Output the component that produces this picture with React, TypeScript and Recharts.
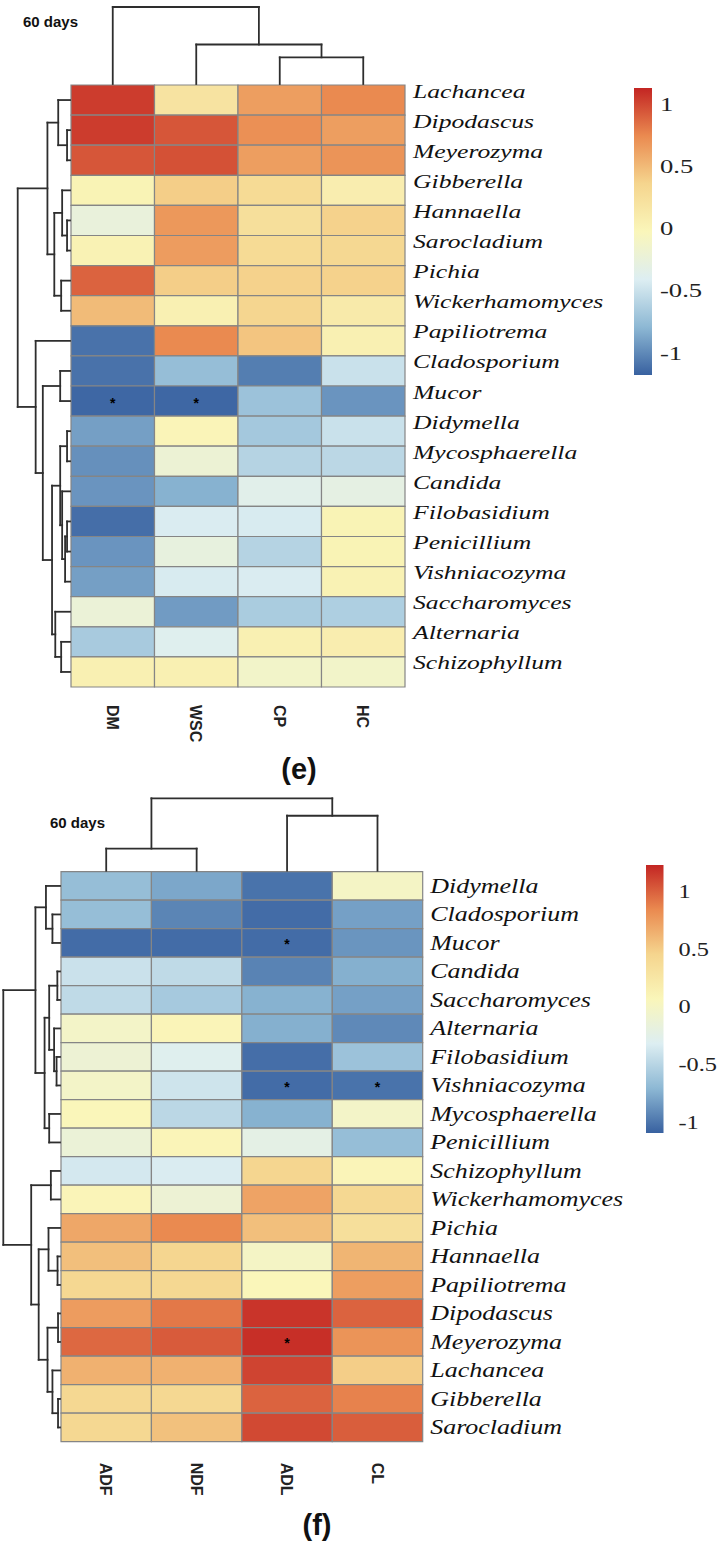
import React from 'react';
import { ComposedChart, XAxis, YAxis, ReferenceArea, ReferenceLine, Scatter } from 'recharts';

type Node = number | [Node, Node, number];

const PALETTE = ['#3861A0', '#8DB8D4', '#DDEEF2', '#FAF6BA', '#F5D58E', '#EA8A50', '#C32523'];
const LEGEND_TICKS = [-1, -0.5, 0, 0.5, 1];

// ---------- Panel (e) ----------
const E_TITLE = '60 days';
const E_TAG = '(e)';
const E_COLUMNS = ['DM', 'WSC', 'CP', 'HC'];
const E_ROWS = ['Lachancea', 'Dipodascus', 'Meyerozyma', 'Gibberella', 'Hannaella', 'Sarocladium', 'Pichia', 'Wickerhamomyces', 'Papiliotrema', 'Cladosporium', 'Mucor', 'Didymella', 'Mycosphaerella', 'Candida', 'Filobasidium', 'Penicillium', 'Vishniacozyma', 'Saccharomyces', 'Alternaria', 'Schizophyllum'];
const E_DM = [1.05, 1.05, 0.95, 0.02, -0.25, 0.03, 0.9, 0.5, -1.1, -1.1, -1.15, -0.9, -0.97, -0.95, -1.12, -0.95, -0.9, -0.22, -0.66, 0.05];
const E_WSC = [0.2, 0.95, 0.97, 0.4, 0.68, 0.66, 0.4, 0.05, 0.75, -0.75, -1.15, 0.0, -0.2, -0.82, -0.42, -0.27, -0.43, -0.92, -0.38, 0.05];
const E_CP = [0.65, 0.72, 0.65, 0.3, 0.25, 0.3, 0.38, 0.35, 0.45, -1.05, -0.72, -0.68, -0.6, -0.35, -0.43, -0.6, -0.42, -0.65, 0.05, -0.12];
const E_HC = [0.75, 0.65, 0.7, 0.08, 0.38, 0.33, 0.38, 0.12, 0.05, -0.5, -0.95, -0.5, -0.57, -0.3, 0.02, 0.02, 0.03, -0.63, 0.08, -0.12];
const E_STARS: [string, string][] = [['Mucor', 'DM'], ['Mucor', 'WSC']];
const E_ROW_TREE: Node = [
  [[0, [1, 2, 3], 12], [[3, [4, 5, 3], 8], [6, 7, 9], 16], 23],
  [8, [[9, 10, 10], [[[11, 12, 3], [13, [[14, 15, 3], 16, 5], 8], 10], [17, [18, 19, 9], 15], 18.3], 27.7], 35],
  53.3,
];
const E_COL_TREE: Node = [0, [1, [2, 3, 27], 40], 78];
const E_LEGEND_RANGE: [number, number] = [-1.177, 1.137];

// ---------- Panel (f) ----------
const F_TITLE = '60 days';
const F_TAG = '(f)';
const F_COLUMNS = ['ADF', 'NDF', 'ADL', 'CL'];
const F_ROWS = ['Didymella', 'Cladosporium', 'Mucor', 'Candida', 'Saccharomyces', 'Alternaria', 'Filobasidium', 'Vishniacozyma', 'Mycosphaerella', 'Penicillium', 'Schizophyllum', 'Wickerhamomyces', 'Pichia', 'Hannaella', 'Papiliotrema', 'Dipodascus', 'Meyerozyma', 'Lachancea', 'Gibberella', 'Sarocladium'];
const F_ADF = [-0.66, -0.66, -1.04, -0.41, -0.46, -0.03, -0.11, -0.03, 0.07, -0.13, -0.36, 0.09, 0.69, 0.57, 0.42, 0.75, 0.97, 0.64, 0.42, 0.42];
const F_NDF = [-0.78, -0.93, -1.04, -0.46, -0.58, 0.09, -0.29, -0.39, -0.48, 0.09, -0.33, -0.11, 0.84, 0.44, 0.42, 0.91, 1.02, 0.64, 0.42, 0.56];
const F_ADL = [-1.01, -1.04, -1.04, -0.94, -0.73, -0.74, -1.03, -1.04, -0.73, -0.23, 0.44, 0.71, 0.57, -0.01, 0.07, 1.17, 1.19, 1.11, 0.99, 1.09];
const F_CL = [-0.01, -0.81, -0.86, -0.74, -0.81, -0.91, -0.63, -1.01, -0.03, -0.66, 0.09, 0.42, 0.34, 0.62, 0.74, 0.99, 0.79, 0.49, 0.87, 1.01];
const F_STARS: [string, string][] = [['Mucor', 'ADL'], ['Vishniacozyma', 'ADL'], ['Vishniacozyma', 'CL'], ['Meyerozyma', 'ADL']];
const F_ROW_TREE: Node = [
  [[0, [1, 2, 7.7], 14.3], [[[3, 4, 2.7], [5, [6, 7, 3.5], 6], 11], [8, 9, 11], 15.7], 25],
  [[10, 11, 9.3], [[12, [13, 14, 2.5], 11.7], [[15, 16, 2], [17, [18, 19, 2], 7.7], 12.7], 21.7], 29.3],
  57.7,
];
const F_COL_TREE: Node = [[0, 1, 22.4], [2, 3, 55.7], 73.4];
const F_LEGEND_RANGE: [number, number] = [-1.089, 1.227];

// ---------- helpers ----------
const SERIF = "'Liberation Serif', 'Times New Roman', serif";
const SANS = "'Liberation Sans', Arial, sans-serif";

function hexToRgb(h: string) {
  const n = parseInt(h.slice(1), 16);
  return [(n >> 16) & 255, (n >> 8) & 255, n & 255];
}
function colorFor(v: number, range: [number, number]) {
  const t0 = Math.max(0, Math.min(1, (v - range[0]) / (range[1] - range[0])));
  const t = t0 * (PALETTE.length - 1);
  const i = Math.min(Math.floor(t), PALETTE.length - 2);
  const f = t - i;
  const a = hexToRgb(PALETTE[i]);
  const b = hexToRgb(PALETTE[i + 1]);
  const c = a.map((x, k) => Math.round(x + (b[k] - x) * f));
  return `rgb(${c[0]},${c[1]},${c[2]})`;
}

type Seg = { p1: number; h1: number; p2: number; h2: number };
function buildSegments(tree: Node) {
  const segs: Seg[] = [];
  const walk = (n: Node): { pos: number; h: number } => {
    if (typeof n === 'number') return { pos: n + 0.5, h: 0 };
    const a = walk(n[0]);
    const b = walk(n[1]);
    const h = n[2];
    segs.push({ p1: a.pos, h1: a.h, p2: a.pos, h2: h });
    segs.push({ p1: b.pos, h1: b.h, p2: b.pos, h2: h });
    segs.push({ p1: a.pos, h1: h, p2: b.pos, h2: h });
    return { pos: (a.pos + b.pos) / 2, h };
  };
  const r = walk(tree);
  return { segs, rootH: r.h };
}

type Layout = {
  chartTop: number; chartH: number;
  left: number; right: number; top: number; bottom: number;
  rowDendroPx: number; colDendroPx: number;
  labelDx: number; labelDy: number; labelFs: number; labelSx: number;
  colLabelDy: number; colLabelFs: number;
  cbLeft: number; cbTop: number; cbW: number; cbH: number; cbTickDx: number; cbFs: number; cbSx: number;
  titleX: number; titleY: number; tagCx: number; tagCy: number;
};

const E_LAYOUT: Layout = {
  chartTop: 0, chartH: 780,
  left: 71, right: 405, top: 85, bottom: 687,
  rowDendroPx: 53.3, colDendroPx: 78,
  labelDx: 8, labelDy: -9, labelFs: 19, labelSx: 1.35,
  colLabelDy: 18, colLabelFs: 16,
  cbLeft: 634, cbTop: 88, cbW: 18, cbH: 287, cbTickDx: 8, cbFs: 19, cbSx: 1.4,
  titleX: 23, titleY: 14, tagCx: 299, tagCy: 769,
};
const F_LAYOUT: Layout = {
  chartTop: 780, chartH: 768,
  left: 61, right: 422.7, top: 871.7, bottom: 1441.7,
  rowDendroPx: 57.7, colDendroPx: 73.4,
  labelDx: 7.5, labelDy: 0, labelFs: 20, labelSx: 1.3,
  colLabelDy: 21, colLabelFs: 16,
  cbLeft: 646, cbTop: 865, cbW: 17.5, cbH: 268, cbTickDx: 15, cbFs: 19, cbSx: 1.28,
  titleX: 50, titleY: 815, tagCx: 317, tagCy: 1525,
};

type PanelCfg = {
  id: string; title: string; tag: string;
  rows: string[]; cols: string[]; values: number[][];
  stars: [string, string][]; rowTree: Node; colTree: Node;
  range: [number, number]; L: Layout;
};

const X_AXIS_H = 60;
const Y_AXIS_W = 10;
const LINE = '#2e2e2e';

function Heatmap({ cfg }: { cfg: PanelCfg }) {
  const { rows, cols, values, stars, rowTree, colTree, range, L } = cfg;
  const colW = (L.right - L.left) / cols.length;
  const rowH = (L.bottom - L.top) / rows.length;
  const margin = {
    top: L.top - L.chartTop,
    left: L.left,
    right: 721 - L.right - Y_AXIS_W,
    bottom: L.chartTop + L.chartH - L.bottom - X_AXIS_H,
  };
  const rowD = buildSegments(rowTree);
  const colD = buildSegments(colTree);
  const rowLen = L.rowDendroPx / colW;
  const rowGap = 1 / colW;
  const colLen = L.colDendroPx / rowH;
  const colGap = 1 / rowH;
  const rx = (h: number) => -rowGap - (h / rowD.rootH) * (rowLen - rowGap);
  const cy = (h: number) => -colGap - (h / colD.rootH) * (colLen - colGap);

  const cells: { c: number; r: number; v: number }[] = [];
  values.forEach((col, c) => col.forEach((v, r) => cells.push({ c, r, v })));
  const starData = stars.map(([rn, cn]) => ({ x: cols.indexOf(cn) + 0.5, y: rows.indexOf(rn) + 0.5 }));

  const rowTick = (p: any) => (
    <g transform={`translate(${p.x + L.labelDx},${p.y + L.labelDy}) scale(${L.labelSx},1)`}>
      <text x={0} y={0.34 * L.labelFs} fontFamily={SERIF} fontStyle="italic" fontSize={L.labelFs} fill="#111">
        {rows[Math.floor(p.payload.value)]}
      </text>
    </g>
  );
  const colTick = (p: any) => (
    <text
      transform={`translate(${p.x},${p.y + L.colLabelDy}) rotate(90)`}
      x={0}
      y={0.36 * L.colLabelFs}
      fontFamily={SANS}
      fontWeight="bold"
      fontSize={L.colLabelFs}
      fill="#222"
      textAnchor="start"
    >
      {cols[Math.floor(p.payload.value)]}
    </text>
  );
  const starShape = (p: any) => (
    <text x={p.cx} y={p.cy + 6.5} textAnchor="middle" fontFamily={SANS} fontWeight="bold" fontSize={14} fill="#000">*</text>
  );

  return (
    <div style={{ position: 'absolute', left: 0, top: L.chartTop }}>
      <ComposedChart width={721} height={L.chartH} margin={margin}>
        <XAxis
          type="number" dataKey="x" domain={[0, cols.length]} allowDataOverflow
          ticks={cols.map((_, i) => i + 0.5)} interval={0}
          tickSize={0} tickMargin={0} axisLine={false} tickLine={false}
          height={X_AXIS_H} tick={colTick}
        />
        <YAxis
          type="number" dataKey="y" orientation="right" domain={[0, rows.length]} allowDataOverflow reversed
          ticks={rows.map((_, i) => i + 0.5)} interval={0}
          tickSize={0} tickMargin={0} axisLine={false} tickLine={false}
          width={Y_AXIS_W} tick={rowTick}
        />
        {cells.map(({ c, r, v }) => (
          <ReferenceArea
            key={`cell-${c}-${r}`}
            x1={c} x2={c + 1} y1={r} y2={r + 1}
            fill={colorFor(v, range)} fillOpacity={1}
            stroke="#858585" strokeWidth={1.2}
            ifOverflow="visible"
          />
        ))}
        {rowD.segs.map((s, i) => (
          <ReferenceLine
            key={`rd-${i}`}
            segment={[{ x: rx(s.h1), y: s.p1 }, { x: rx(s.h2), y: s.p2 }]}
            stroke={LINE} strokeWidth={1.8} strokeLinecap="square"
            ifOverflow="visible"
          />
        ))}
        {colD.segs.map((s, i) => (
          <ReferenceLine
            key={`cd-${i}`}
            segment={[{ x: s.p1, y: cy(s.h1) }, { x: s.p2, y: cy(s.h2) }]}
            stroke={LINE} strokeWidth={1.8} strokeLinecap="square"
            ifOverflow="visible"
          />
        ))}
        <Scatter data={starData} shape={starShape} isAnimationActive={false} />
      </ComposedChart>
    </div>
  );
}

function ColorBar({ cfg }: { cfg: PanelCfg }) {
  const { range, L, id } = cfg;
  const AX_W = 70;
  const gid = `grad-${id}`;
  const stops = PALETTE.slice().reverse();
  const tick = (p: any) => (
    <g transform={`translate(${p.x + L.cbTickDx},${p.y}) scale(${L.cbSx},1)`}>
      <text x={0} y={0.34 * L.cbFs} fontFamily={SERIF} fontSize={L.cbFs} fill="#222">{String(p.payload.value)}</text>
    </g>
  );
  return (
    <div style={{ position: 'absolute', left: L.cbLeft, top: L.cbTop }}>
      <ComposedChart width={L.cbW + AX_W} height={L.cbH} margin={{ top: 0, bottom: 0, left: 0, right: 0 }}>
        <defs>
          <linearGradient id={gid} x1="0" y1="0" x2="0" y2="1">
            {stops.map((c, i) => (
              <stop key={i} offset={`${(i / (stops.length - 1)) * 100}%`} stopColor={c} />
            ))}
          </linearGradient>
        </defs>
        <XAxis type="number" dataKey="x" domain={[0, 1]} hide allowDataOverflow />
        <YAxis
          type="number" dataKey="y" orientation="right" domain={range} allowDataOverflow
          ticks={LEGEND_TICKS} interval={0} tickSize={0} tickMargin={0}
          axisLine={false} tickLine={false} width={AX_W} tick={tick}
        />
        <ReferenceArea x1={0} x2={1} y1={range[0]} y2={range[1]} fill={`url(#${gid})`} fillOpacity={1} ifOverflow="visible" />
        <Scatter data={LEGEND_TICKS.map((t) => ({ x: 0.5, y: t }))} shape={() => <g />} isAnimationActive={false} />
      </ComposedChart>
    </div>
  );
}

function Texts({ cfg }: { cfg: PanelCfg }) {
  const { L } = cfg;
  return (
    <>
      <div style={{ position: 'absolute', left: L.titleX, top: L.titleY, fontFamily: SANS, fontWeight: 'bold', fontSize: 15, lineHeight: '16px', color: '#111', whiteSpace: 'nowrap' }}>
        {cfg.title}
      </div>
      <div style={{ position: 'absolute', left: L.tagCx - 40, width: 80, top: L.tagCy - 18, textAlign: 'center', fontFamily: SANS, fontWeight: 'bold', fontSize: 29, lineHeight: '36px', color: '#111' }}>
        {cfg.tag}
      </div>
    </>
  );
}

const PANELS: PanelCfg[] = [
  {
    id: 'e', title: E_TITLE, tag: E_TAG, rows: E_ROWS, cols: E_COLUMNS,
    values: [E_DM, E_WSC, E_CP, E_HC], stars: E_STARS,
    rowTree: E_ROW_TREE, colTree: E_COL_TREE, range: E_LEGEND_RANGE, L: E_LAYOUT,
  },
  {
    id: 'f', title: F_TITLE, tag: F_TAG, rows: F_ROWS, cols: F_COLUMNS,
    values: [F_ADF, F_NDF, F_ADL, F_CL], stars: F_STARS,
    rowTree: F_ROW_TREE, colTree: F_COL_TREE, range: F_LEGEND_RANGE, L: F_LAYOUT,
  },
];

export default function App() {
  return (
    <div style={{ position: 'absolute', left: 0, top: 0, width: 721, height: 1548, background: '#fff', overflow: 'hidden' }}>
      {PANELS.map((p) => (
        <React.Fragment key={p.id}>
          <Heatmap cfg={p} />
          <ColorBar cfg={p} />
          <Texts cfg={p} />
        </React.Fragment>
      ))}
    </div>
  );
}
